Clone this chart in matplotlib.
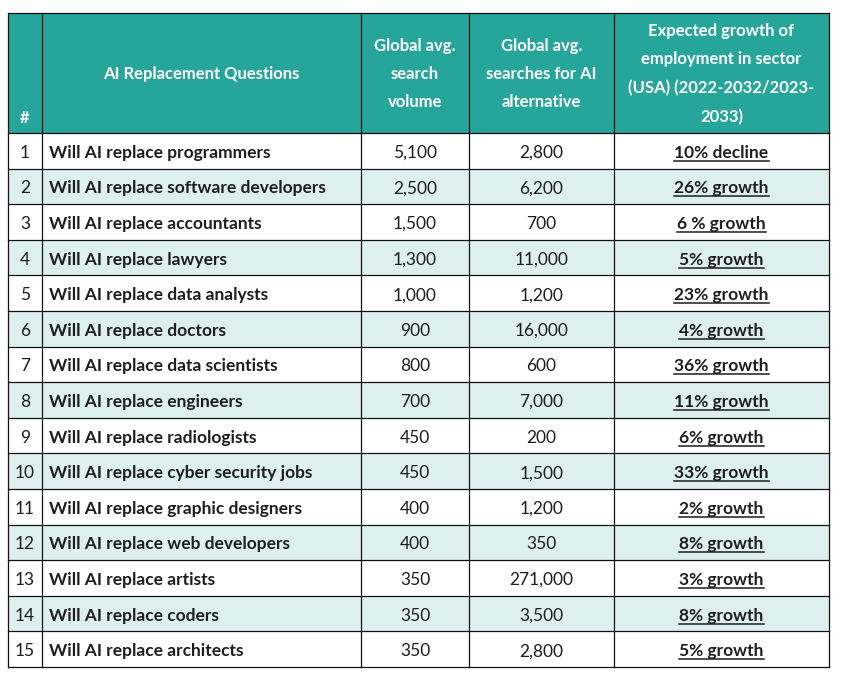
import matplotlib.pyplot as plt
from matplotlib.patches import Rectangle

# Data

headers = ["#", "AI Replacement Questions", "Global avg.\nsearch\nvolume",
           "Global avg.\nsearches for AI\nalternative",
           "Expected growth of\nemployment in sector\n(USA) (2022-2032/2023-\n2033)"]
questions = ["Will AI replace programmers", "Will AI replace software developers",
             "Will AI replace accountants", "Will AI replace lawyers",
             "Will AI replace data analysts", "Will AI replace doctors",
             "Will AI replace data scientists", "Will AI replace engineers",
             "Will AI replace radiologists", "Will AI replace cyber security jobs",
             "Will AI replace graphic designers", "Will AI replace web developers",
             "Will AI replace artists", "Will AI replace coders",
             "Will AI replace architects"]
search_volume = [5100, 2500, 1500, 1300, 1000, 900, 800, 700, 450, 450,
                 400, 400, 350, 350, 350]
alt_searches = [2800, 6200, 700, 11000, 1200, 16000, 600, 7000, 200, 1500,
                1200, 350, 271000, 3500, 2800]
growth = ["10% decline", "26% growth", "6 % growth", "5% growth", "23% growth",
          "4% growth", "36% growth", "11% growth", "6% growth", "33% growth",
          "2% growth", "8% growth", "3% growth", "8% growth", "5% growth"]

# Layout (pixels)

col_x = [8, 42, 361, 469, 614, 829]
top, head_bot, bottom = 13, 133, 667
row_h = (bottom - head_bot) / len(questions)
teal = "#26A69A"
band = "#DDF0EE"
txt = "#1e1e1e"
font = "Lato"
fs = 12.5

fig = plt.figure(figsize=(8.48, 6.80), dpi=100)
ax = fig.add_axes([0, 0, 1, 1])
ax.set_xlim(0, 848)
ax.set_ylim(680, 0)
ax.axis("off")

# header
ax.add_patch(Rectangle((col_x[0], top), col_x[-1] - col_x[0], head_bot - top,
                       facecolor=teal, edgecolor="none"))
for i, h in enumerate(headers):
    cx = (col_x[i] + col_x[i + 1]) / 2
    if i == 0:
        ax.text(cx, 118, h, ha="center", va="center", color="white",
                fontsize=fs - 0.5, fontweight="bold", family=font)
    else:
        ax.text(cx, (top + head_bot) / 2 + 1, h, ha="center", va="center",
                color="white", fontsize=fs - 0.5, fontweight="bold",
                family=font, linespacing=1.95, multialignment="center")

# body rows
underlines = []
for r in range(len(questions)):
    y0 = head_bot + r * row_h
    yc = y0 + row_h / 2 + 2
    if r % 2 == 1:
        ax.add_patch(Rectangle((col_x[0], y0), col_x[-1] - col_x[0], row_h,
                               facecolor=band, edgecolor="none"))
    ax.text((col_x[0] + col_x[1]) / 2, yc, str(r + 1), ha="center",
            va="center", color=txt, fontsize=fs, family=font)
    ax.text(col_x[1] + 7, yc, questions[r], ha="left", va="center",
            color=txt, fontsize=fs, fontweight="bold", family=font)
    ax.text((col_x[2] + col_x[3]) / 2, yc, f"{search_volume[r]:,}",
            ha="center", va="center", color=txt, fontsize=fs, family=font)
    ax.text((col_x[3] + col_x[4]) / 2, yc, f"{alt_searches[r]:,}",
            ha="center", va="center", color=txt, fontsize=fs, family=font)
    t = ax.text((col_x[4] + col_x[5]) / 2, yc, growth[r], ha="center",
                va="center", color=txt, fontsize=fs, fontweight="bold",
                family=font)
    underlines.append((t, yc))

# grid lines
for r in range(len(questions) + 1):
    y = head_bot + r * row_h
    ax.plot([col_x[0], col_x[-1]], [y, y], color="#111111", lw=0.9)
ax.plot([col_x[0], col_x[-1]], [top, top], color="#111111", lw=0.9)
for x in col_x:
    ax.plot([x, x], [top, bottom], color="#111111", lw=0.9)

# underline the growth column
fig.canvas.draw()
renderer = fig.canvas.get_renderer()
inv = ax.transData.inverted()
for t, yc in underlines:
    bb = t.get_window_extent(renderer)
    (x0, _), (x1, _) = inv.transform([(bb.x0, bb.y0), (bb.x1, bb.y1)])
    ax.plot([x0, x1], [yc + 8, yc + 8], color=txt, lw=1.1)

fig.savefig("out.png", dpi=100, facecolor="white")
